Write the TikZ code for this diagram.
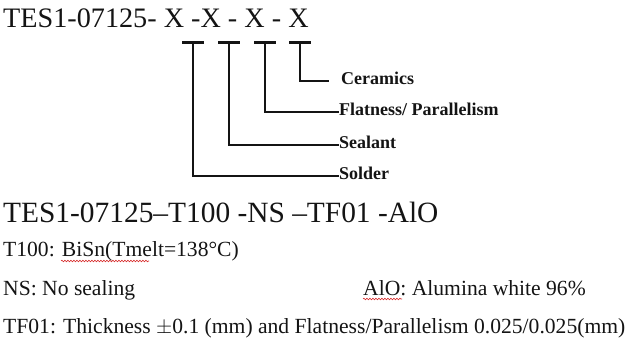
\documentclass[tikz,border=0pt]{standalone}
\usepackage{fontspec}
\setmainfont{Liberation Serif}
\usetikzlibrary{positioning,decorations.pathmorphing}
\definecolor{ink}{RGB}{20, 20, 20}
\definecolor{spell}{RGB}{215, 45, 45}
\tikzstyle{bar} = [
    line width=3pt,
    draw=ink
]
\tikzstyle{leader} = [
    line width=1.4pt,
    draw=ink
]
\tikzstyle{part} = [
    anchor=west,
    inner sep=0pt,
    text height=8pt,
    text depth=0pt,
    text=ink,
    font=\fontsize{18}{18}\selectfont\bfseries
]
\tikzstyle{code} = [
    anchor=base west,
    inner sep=0pt,
    text=ink
]
\tikzstyle{note} = [
    anchor=base west,
    inner sep=0pt,
    text=ink,
    font=\fontsize{21.6}{21.6}\selectfont
]
\tikzstyle{squiggle} = [
    draw=spell,
    line width=0.6pt,
    decorate,
    decoration={snake, amplitude=0.8pt, segment length=3pt}
]
\begin{document}
\begin{tikzpicture}[x=1pt, y=-1pt]
    \useasboundingbox (0,0) rectangle (630,342);
    % part number pattern
    \node[code, font=\fontsize{28.2}{28.2}\selectfont] (pattern) at (3,28) {TES1-07125- X -X - X - X};
    \coordinate (solderX) at (193,43);
    \coordinate (sealX) at (229,43);
    \coordinate (flatX) at (265,43);
    \coordinate (ceramX) at (300,43);
    \foreach \c in {solderX, sealX, flatX, ceramX}
        \draw[bar] ([xshift=-11pt]\c) -- ([xshift=11pt]\c);
    % field names
    \node[part] (ceramics) at (341,81) {Ceramics};
    \node[part] (flatness) at (339,112) {Flatness/ Parallelism};
    \node[part] (sealant) at (339,145) {Sealant};
    \node[part] (solder) at (339,176) {Solder};
    \draw[leader] (ceramX) |- ([xshift=-12pt]ceramics.west);
    \draw[leader] (flatX) |- (flatness.west);
    \draw[leader] (sealX) |- (sealant.west);
    \draw[leader] (solderX) |- (solder.west);
    % example code and its meaning
    \node[code, font=\fontsize{29.4}{29.4}\selectfont] (example) at (3,223) {TES1-07125--T100 -NS --TF01 -AlO};
    \node[note] (t100) at (3,257) {T100: BiSn(Tmelt=138°C)};
    \node[note] (ns) at (3,295) {NS: No sealing};
    \node[note] (alo) at (363,295) {AlO: Alumina white 96\%};
    \node[note] (tf01) at (3,333) {TF01: Thickness $\pm$0.1 (mm) and Flatness/Parallelism 0.025/0.025(mm)};
    \draw[squiggle] (61,261) -- (149,261);
    \draw[squiggle] (363,299) -- (402,299);
\end{tikzpicture}
\end{document}
